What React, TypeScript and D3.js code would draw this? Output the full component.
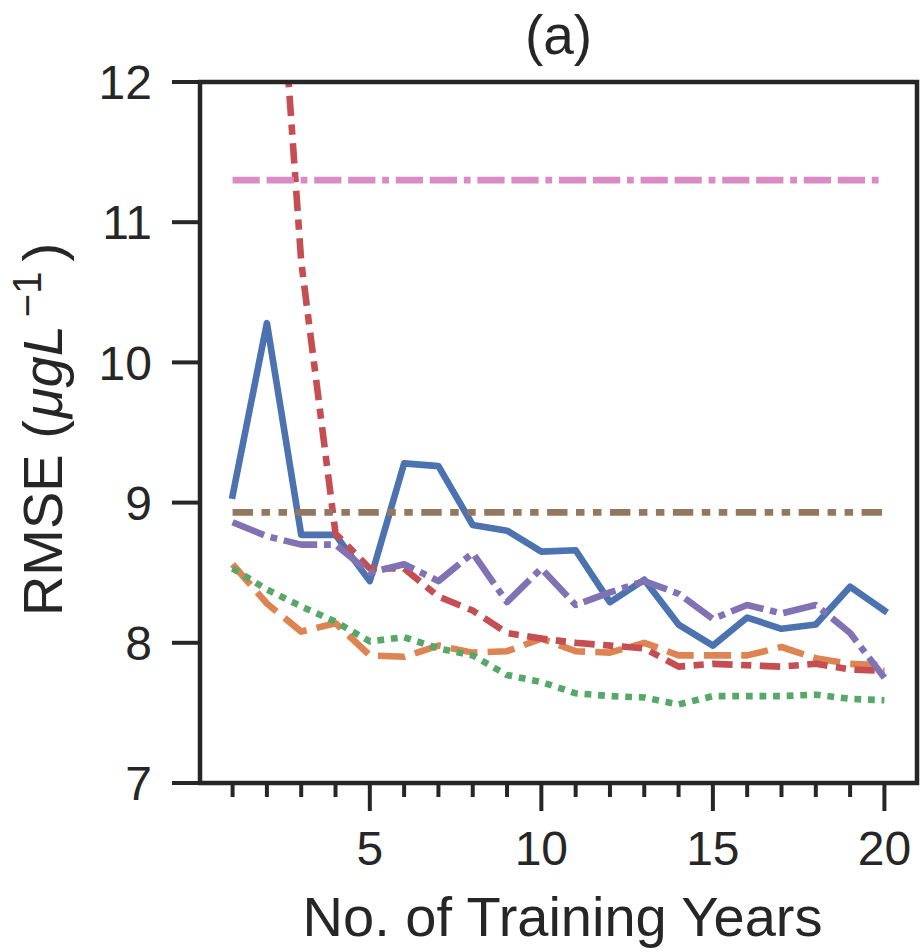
import React from "react";
import * as d3 from "d3";

// ---- data ----
const years = [1, 2, 3, 4, 5, 6, 7, 8, 9, 10, 11, 12, 13, 14, 15, 16, 17, 18, 19, 20];
const seriesBlue = [9.05, 10.28, 8.77, 8.77, 8.44, 9.28, 9.26, 8.84, 8.8, 8.65, 8.66, 8.29, 8.45, 8.13, 7.98, 8.18, 8.1, 8.13, 8.4, 8.23];
const seriesOrange = [8.56, 8.28, 8.08, 8.14, 7.91, 7.9, 7.98, 7.93, 7.94, 8.03, 7.94, 7.93, 8.0, 7.91, 7.91, 7.91, 7.97, 7.89, 7.85, 7.84];
const seriesGreen = [8.53, 8.38, 8.26, 8.15, 8.01, 8.04, 7.96, 7.91, 7.77, 7.72, 7.64, 7.62, 7.61, 7.56, 7.62, 7.62, 7.62, 7.63, 7.6, 7.59];
const seriesRed = [18.0, 14.2, 10.72, 8.78, 8.53, 8.53, 8.33, 8.23, 8.07, 8.03, 8.0, 7.98, 7.96, 7.83, 7.85, 7.84, 7.83, 7.85, 7.81, 7.8];
const seriesPurple = [8.86, 8.76, 8.7, 8.7, 8.5, 8.56, 8.44, 8.64, 8.29, 8.53, 8.27, 8.36, 8.44, 8.35, 8.17, 8.27, 8.21, 8.27, 8.07, 7.75];
const seriesBrown = [8.93, 8.93, 8.93, 8.93, 8.93, 8.93, 8.93, 8.93, 8.93, 8.93, 8.93, 8.93, 8.93, 8.93, 8.93, 8.93, 8.93, 8.93, 8.93, 8.93];
const seriesPink = [11.3, 11.3, 11.3, 11.3, 11.3, 11.3, 11.3, 11.3, 11.3, 11.3, 11.3, 11.3, 11.3, 11.3, 11.3, 11.3, 11.3, 11.3, 11.3, 11.3];
const yTicks = [7, 8, 9, 10, 11, 12];
const xMajorTicks = [5, 10, 15, 20];
const titleText = "(a)";
const xLabelText = "No. of Training Years";

// ---- styles ----
const W = 922;
const H = 952;
const left = 200;
const right = 917;
const top = 82;
const bottom = 783;
const ink = "#262626";
const lw = 6.6;
const dashUnit = 6.8;

const lines = [
  { values: seriesBlue, color: "#4c72b0", dash: [] as number[] },
  { values: seriesOrange, color: "#dd8452", dash: [4, 1.5] },
  { values: seriesGreen, color: "#55a868", dash: [1, 1] },
  { values: seriesRed, color: "#c44e52", dash: [3, 1.25, 1.5, 1.25] },
  { values: seriesPurple, color: "#8172b3", dash: [5, 1, 1, 1] },
  { values: seriesBrown, color: "#937860", dash: [3, 1.25, 1.25, 1.25, 1.25, 1.25] },
  { values: seriesPink, color: "#da8bc3", dash: [4, 1, 4, 1, 1, 1] },
];

export default function App() {
  const x = d3.scaleLinear().domain([0.05, 20.95]).range([left, right]);
  const y = d3.scaleLinear().domain([7, 12]).range([bottom, top]);
  const lineGen = d3
    .line<number>()
    .x((_, i) => x(years[i]))
    .y((d) => y(d));

  const font = "'Liberation Sans', Arial, Helvetica, sans-serif";

  return (
    <svg
      width={W}
      height={H}
      viewBox={`0 0 ${W} ${H}`}
      style={{ position: "absolute", left: 0, top: 0, background: "#fff" }}
      fontFamily={font}
    >
      <defs>
        <clipPath id="plotClip">
          <rect x={left} y={top} width={right - left} height={bottom - top} />
        </clipPath>
      </defs>
      <rect x={0} y={0} width={W} height={H} fill="#fff" />

      {/* series */}
      <g clipPath="url(#plotClip)">
        {lines.map((s, i) => (
          <path
            key={i}
            d={lineGen(s.values) || ""}
            fill="none"
            stroke={s.color}
            strokeWidth={lw}
            strokeLinejoin="round"
            strokeLinecap={s.dash.length ? "butt" : "square"}
            strokeDasharray={s.dash.length ? s.dash.map((v) => v * dashUnit).join(" ") : undefined}
          />
        ))}
      </g>

      {/* spines */}
      <rect
        x={left}
        y={top}
        width={right - left}
        height={bottom - top}
        fill="none"
        stroke={ink}
        strokeWidth={4.5}
      />

      {/* y ticks */}
      {yTicks.map((t) => (
        <g key={"y" + t}>
          <line x1={left - 28} x2={left} y1={y(t)} y2={y(t)} stroke={ink} strokeWidth={4} />
          <text
            x={left - 48}
            y={y(t)}
            dy="0.36em"
            textAnchor="end"
            fontSize={48}
            fill={ink}
          >
            {t}
          </text>
        </g>
      ))}

      {/* x ticks */}
      {years.map((t) => {
        const major = xMajorTicks.includes(t);
        return (
          <line
            key={"xt" + t}
            x1={x(t)}
            x2={x(t)}
            y1={bottom}
            y2={bottom + (major ? 28 : 14)}
            stroke={ink}
            strokeWidth={4}
          />
        );
      })}
      {xMajorTicks.map((t) => (
        <text key={"xl" + t} x={x(t)} y={865} textAnchor="middle" fontSize={48} fill={ink}>
          {t}
        </text>
      ))}

      {/* title */}
      <text x={(left + right) / 2} y={54} textAnchor="middle" fontSize={55} fill={ink}>
        {titleText}
      </text>

      {/* x label */}
      <text x={(left + right) / 2 + 4} y={936} textAnchor="middle" fontSize={56} fill={ink}>
        {xLabelText}
      </text>

      {/* y label */}
      <text
        transform={`translate(62, ${(top + bottom) / 2 - 3}) rotate(-90)`}
        textAnchor="middle"
        fontSize={56}
        fill={ink}
      >
        <tspan>RMSE (</tspan>
        <tspan fontStyle="italic" dx={2}>μgL</tspan>
        <tspan fontSize={40} dy={-21} dx={8}>−1</tspan>
        <tspan dy={21} dx={10}>)</tspan>
      </text>
    </svg>
  );
}
